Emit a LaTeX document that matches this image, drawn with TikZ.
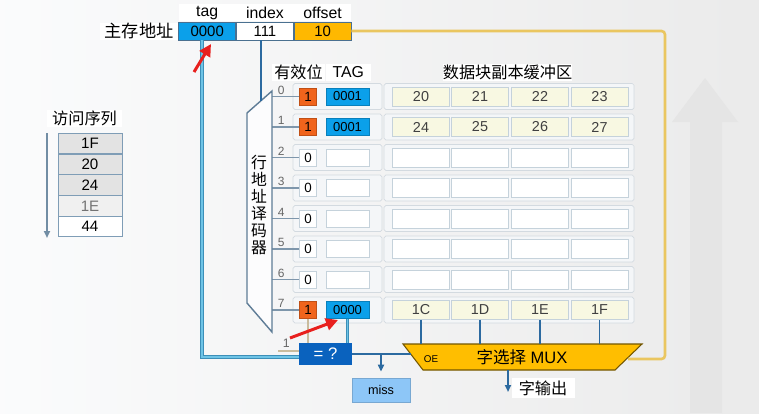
\documentclass[tikz,border=0pt]{standalone}
\usepackage{fontspec}
\setmainfont{Liberation Sans}
\newfontfamily\cjk{Noto Sans CJK SC}
\usepackage{xcolor}
\usetikzlibrary{
    arrows.meta,
    positioning,
    shapes.geometric
}

\definecolor{tagblue}{HTML}{0BA0EA}
\definecolor{offamber}{HTML}{FFB800}
\definecolor{validor}{HTML}{F0641C}
\definecolor{cmpblue}{HTML}{0A62BE}
\definecolor{missblue}{HTML}{8DC6F7}
\definecolor{muxgold}{HTML}{FFBE00}
\definecolor{wirelight}{HTML}{6EC4E6}
\definecolor{wireedge}{HTML}{3C8FB8}
\definecolor{wiredark}{HTML}{2C6AA0}
\definecolor{wiregold}{HTML}{EAC660}
\definecolor{wiretan}{HTML}{C9BC9E}
\definecolor{cellfill}{HTML}{F8F8E2}
\definecolor{cellline}{HTML}{C5D2DB}
\definecolor{frameline}{HTML}{D3DAE0}
\definecolor{framefill}{HTML}{F4F6F8}
\definecolor{seqline}{HTML}{7F9DB6}
\definecolor{seqfill}{HTML}{E3E3E3}
\definecolor{boxline}{HTML}{4A7090}
\definecolor{markred}{HTML}{E8201E}
\definecolor{decline}{HTML}{5E7C96}

\begin{document}
\begin{tikzpicture}[
x=0.2mm, y=-0.2mm,
font=\fontsize{8.5}{10}\selectfont,
box/.style={
draw=boxline,
inner sep=0pt,
minimum width=11.4mm,
minimum height=3.6mm
},
headbox/.style={
fill=white,
inner sep=0pt,
minimum height=3.4mm,
font=\cjk\fontsize{9.2}{10}\selectfont
},
valid0/.style={
draw=cellline, fill=white,
inner sep=0pt, minimum size=3.4mm,
font=\fontsize{7.6}{8}\selectfont
},
valid1/.style={valid0, draw=validor!80!black, fill=validor},
tag0/.style={
draw=cellline, fill=white,
inner sep=0pt, minimum width=8.6mm, minimum height=3.4mm,
font=\fontsize{7.4}{8}\selectfont
},
tag1/.style={tag0, draw=tagblue!80!black, fill=tagblue},
cell0/.style={
draw=cellline, fill=white,
inner sep=0pt, minimum width=11.4mm, minimum height=3.8mm,
text=black!75,
font=\fontsize{8.2}{9}\selectfont
},
cell1/.style={cell0, fill=cellfill},
rowbox/.style={draw=frameline, fill=framefill, rounded corners=1pt},
seqbox/.style={
draw=seqline, fill=seqfill,
inner sep=0pt, minimum width=12.8mm, minimum height=4.04mm,
font=\fontsize{8.6}{9}\selectfont
},
wire/.style={line width=1.1pt, draw=wiredark},
wirearrow/.style={wire, -{Triangle[length=1.4mm,width=1.2mm]}},
lightwire/.style={draw=wireedge, double=wirelight, line width=0.35pt, double distance=1.1pt},
tanwire/.style={draw=wiretan, line width=1pt},
redmark/.style={draw=markred, line width=1.7pt, -{Triangle[length=2.4mm,width=2.4mm]}}
]

\useasboundingbox (0,0) rectangle (759,413);
\fill[left color=white!60!framefill, right color=black!8] (0,0) rectangle (759,413);

% faint arrow in the background
\fill[black!10] (705,78) -- (738,122) -- (722,122) -- (722,413)
  -- (690,413) -- (690,122) -- (672,122) -- cycle;

% main memory address
\node[headbox, minimum width=15.6mm, font=\cjk\fontsize{9.8}{11}\selectfont]
(addr) at (139,31) {主存地址};
\node[box, fill=tagblue, right=0pt of addr] (tagf) {0000};
\node[box, fill=white, right=0pt of tagf] (idxf) {111};
\node[box, fill=offamber, right=0pt of idxf] (offf) {10};
\node[headbox, font=\fontsize{9}{10}\selectfont, minimum width=11.4mm,
above=0pt of tagf] (taghd) {tag};
\node[headbox, font=\fontsize{9}{10}\selectfont, minimum width=11.6mm,
above=0pt of idxf] (idxhd) {index};
\node[headbox, font=\fontsize{9}{10}\selectfont, minimum width=11.4mm,
above=0pt of offf] (offhd) {offset};

% access sequence
\node[headbox, minimum width=15mm] (seqhd) at (84.5,118.5) {访问序列};
\node[seqbox] (s1) at (90,143.1) {1F};
\node[seqbox, below=0pt of s1] (s2) {20};
\node[seqbox, below=0pt of s2] (s3) {24};
\node[seqbox, fill=black!6, text=black!55, below=0pt of s3] (s4) {1E};
\node[seqbox, fill=white, below=0pt of s4] (s5) {44};
\coordinate (seqtop) at (47,133);
\coordinate (seqend) at (47,238);
\draw[draw=seqline!90!black, line width=1pt,
-{Triangle[length=1.4mm,width=1.2mm]}] (seqtop) -- (seqend);

% column headers
\node[headbox, minimum width=10.6mm] (validhd) at (298.5,72.5) {有效位};
\node[headbox, font=\fontsize{9}{10}\selectfont, minimum width=9mm,
right=0pt of validhd] (taghd2) {TAG};
\node[headbox, minimum width=24.2mm] (datahd) at (507.5,72.5) {数据块副本缓冲区};

% cache rows
\foreach \r/\vb/\tg/\ca/\cb/\cc/\cd in {
0/1/0001/20/21/22/23,
1/1/0001/24/25/26/27,
2/0/{}/{}/{}/{}/{},
3/0/{}/{}/{}/{}/{},
4/0/{}/{}/{}/{}/{},
5/0/{}/{}/{}/{}/{},
6/0/{}/{}/{}/{}/{},
7/1/0000/1C/1D/1E/1F}{
\pgfmathsetmacro\ry{96.5+30.5*\r}
\draw[rowbox] (293,{\ry-13}) rectangle (382,{\ry+13});
\draw[rowbox] (384,{\ry-13}) rectangle (634,{\ry+13});
\node[valid\vb] (v\r) at (308,\ry) {\vb};
\node[tag\vb] (t\r) at (347.5,\ry) {\tg};
\node[cell\vb] (c\r-a) at (421,\ry) {\ca};
\node[cell\vb] (c\r-b) at (480,\ry) {\cb};
\node[cell\vb] (c\r-c) at (540,\ry) {\cc};
\node[cell\vb] (c\r-d) at (599.5,\ry) {\cd};
\draw[draw=decline!80, line width=0.6pt] (v\r.west) -- ++(-27.5,0)
node[pos=0.65, above, inner sep=1pt, text=black!60,
font=\fontsize{6.8}{7}\selectfont] {\r};
}

% row address decoder
\draw[draw=decline, fill=white!70!framefill, line width=0.8pt]
(247,113) -- (272,91) -- (272,332) -- (247,303) -- cycle;
\node[align=center, font=\cjk\fontsize{9}{9.7}\selectfont] (dectxt)
at (259,205) {行\\地\\址\\译\\码\\器};
\coordinate (dectop) at (261,101);
\draw[wire] (dectop |- idxf.south) -- (dectop);

% comparator
\node[fill=cmpblue, text=white, inner sep=0pt,
minimum width=10.6mm, minimum height=4.4mm,
font=\fontsize{9.5}{10}\selectfont] (cmp) at (325.5,354) {= ?};
\coordinate (tagdrop) at (202,357);
\draw[lightwire] (tagdrop |- tagf.south) -- (tagdrop) -- (tagdrop -| cmp.west);
\draw[lightwire] (t7.south) -- (t7.south |- cmp.north);
\draw[tanwire] (v7.south) -- (v7.south |- cmp.north);
\coordinate (onein) at (278,351);
\draw[tanwire] (onein) -- (onein -| cmp.west)
node[pos=0.4, above, inner sep=1.5pt, text=black!60,
font=\fontsize{7}{8}\selectfont] {1};

% miss
\node[fill=missblue, draw=missblue!85!black, line width=0.4pt, inner sep=0pt,
minimum width=11.6mm, minimum height=4.8mm,
font=\fontsize{7.2}{8}\selectfont] (miss) at (381,390) {miss};

% word select MUX
\draw[draw=black!55!muxgold, fill=muxgold, line width=0.6pt]
(403,344) -- (642,344) -- (615,370) -- (423,370) -- cycle;
\node[font=\fontsize{9.4}{10}\selectfont] (muxtxt) at (522,357) {{\cjk 字选择} MUX};
\node[font=\fontsize{5.6}{6}\selectfont] (oe) at (431,359) {OE};
\coordinate (muxin) at (411,354);
\coordinate (muxsel) at (628,359);
\coordinate (muxtop) at (0,344);
\coordinate (muxout) at (508,370);
\coordinate (outend) at (508,392);
\coordinate (goldcorner) at (665,359);

\draw[wire] (cmp.east) -- (muxin);
\draw[wirearrow, shorten >=1.2mm] (cmp.east -| miss.north) -- (miss.north);
\foreach \k in {a,b,c,d}
\draw[wire] (c7-\k.south) -- (c7-\k.south |- muxtop);
\draw[draw=wiregold, line width=1.5pt, rounded corners=2pt]
(offf.east) -- (offf.east -| goldcorner) -- (goldcorner) -- (muxsel);
\draw[wirearrow] (muxout) -- (outend);
\node[headbox, minimum width=12.6mm, minimum height=4mm] (wordout)
at (543,388) {字输出};

% red markers
\coordinate (m1a) at (194,72);
\coordinate (m1b) at (211,44);
\draw[redmark] (m1a) -- (m1b);
\coordinate (m2a) at (290,338);
\coordinate (m2b) at (338,320);
\draw[redmark] (m2a) -- (m2b);

\end{tikzpicture}
\end{document}
